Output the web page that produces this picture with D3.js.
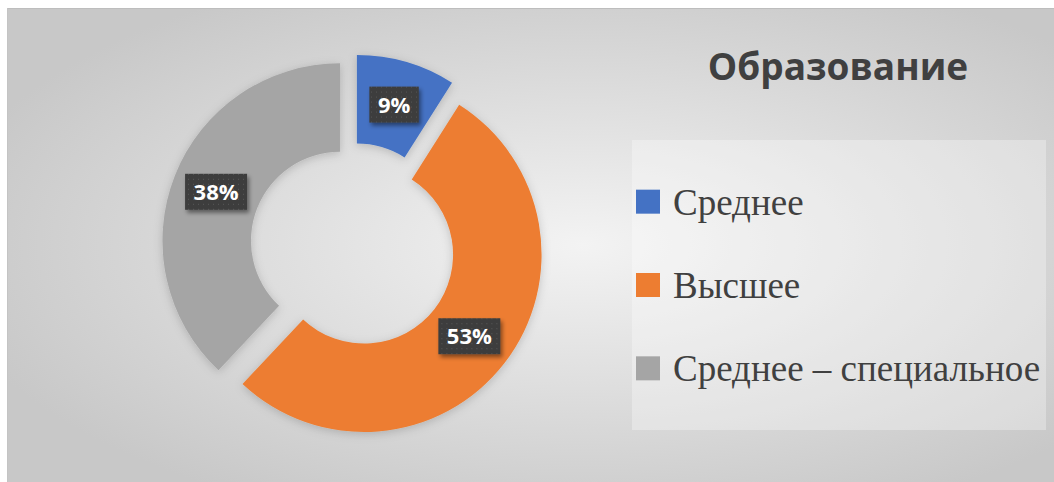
<!DOCTYPE html>
<html lang="ru">
<head>
<meta charset="utf-8">
<title>Образование</title>
<script src="https://cdn.jsdelivr.net/npm/d3@7/dist/d3.min.js"></script>
<style>
  html, body { margin: 0; padding: 0; background: #fff; }
  svg { display: block; }
</style>
</head>
<body>
<div id="chart"></div>
<script>
const categories = ["Среднее", "Высшее", "Среднее – специальное"];
const values = [9, 53, 38];
const colors = ["#4472C4", "#ED7D31", "#A5A5A5"];
const title = "Образование";

const width = 1054, height = 482;
const cx = 353, cy = 246;
const outerR = 177.5, innerR = 89, explode = 14;

const svg = d3.select("#chart").append("svg")
  .attr("width", width)
  .attr("height", height);

const defs = svg.append("defs");

const bg = defs.append("radialGradient")
  .attr("id", "bg")
  .attr("cx", "55%").attr("cy", "50%").attr("r", "62%");
bg.append("stop").attr("offset", "0%").attr("stop-color", "#f3f3f3");
bg.append("stop").attr("offset", "100%").attr("stop-color", "#c8c8c8");

// dotted texture for the data labels
const pat = defs.append("pattern")
  .attr("id", "dots")
  .attr("width", 5).attr("height", 5)
  .attr("patternUnits", "userSpaceOnUse");
pat.append("rect").attr("width", 5).attr("height", 5).attr("fill", "#3c3c3c");
pat.append("rect").attr("x", 2).attr("y", 2).attr("width", 1).attr("height", 1).attr("fill", "#5a5a5a");

const shadow = defs.append("filter").attr("id", "shadow")
  .attr("x", "-20%").attr("y", "-20%").attr("width", "150%").attr("height", "160%");
shadow.append("feDropShadow")
  .attr("dx", 2).attr("dy", 3).attr("stdDeviation", 2)
  .attr("flood-color", "#000").attr("flood-opacity", 0.45);

const softShadow = defs.append("filter").attr("id", "soft")
  .attr("x", "-20%").attr("y", "-20%").attr("width", "140%").attr("height", "140%");
softShadow.append("feDropShadow")
  .attr("dx", 0).attr("dy", 2).attr("stdDeviation", 5)
  .attr("flood-color", "#000").attr("flood-opacity", 0.18);

// background panel
svg.append("rect")
  .attr("x", 7).attr("y", 8)
  .attr("width", width - 7).attr("height", height - 8)
  .attr("fill", "url(#bg)");
svg.append("line")
  .attr("x1", 7).attr("x2", width).attr("y1", 8.5).attr("y2", 8.5)
  .attr("stroke", "#bdbdbd");
svg.append("line")
  .attr("x1", 7.5).attr("x2", 7.5).attr("y1", 8).attr("y2", height)
  .attr("stroke", "#c4c4c4");

// donut
const pie = d3.pie().sort(null).value(d => d);
const arcs = pie(values);
const arc = d3.arc().innerRadius(innerR).outerRadius(outerR);
const offset = d => {
  const a = (d.startAngle + d.endAngle) / 2;
  return [Math.sin(a) * explode, -Math.cos(a) * explode];
};

const g = svg.append("g").attr("transform", `translate(${cx},${cy})`);

g.selectAll("path.slice")
  .data(arcs)
  .join("path")
  .attr("class", "slice")
  .attr("d", arc)
  .attr("fill", (d, i) => colors[i])
  .attr("filter", "url(#soft)")
  .attr("transform", d => `translate(${offset(d)})`);

// data labels
const labelArc = d3.arc().innerRadius((innerR + outerR) / 2).outerRadius((innerR + outerR) / 2);
const labels = g.selectAll("g.lbl")
  .data(arcs)
  .join("g")
  .attr("class", "lbl")
  .attr("transform", d => {
    const c = labelArc.centroid(d), o = offset(d);
    return `translate(${c[0] + o[0]},${c[1] + o[1]})`;
  });

labels.each(function (d) {
  const el = d3.select(this);
  const box = el.append("rect").attr("fill", "url(#dots)").attr("filter", "url(#shadow)");
  const t = el.append("text")
    .attr("text-anchor", "middle")
    .attr("dy", "0.36em")
    .attr("fill", "#fff")
    .attr("font-family", "'Open Sans', sans-serif")
    .attr("font-weight", 700)
    .attr("font-size", 22)
    .text(d.data + "%");
  const w = t.node().getComputedTextLength() + 17, h = 36;
  box.attr("x", -w / 2).attr("y", -h / 2).attr("width", w).attr("height", h);
});

// title
svg.append("text")
  .attr("x", 838).attr("y", 80)
  .attr("text-anchor", "middle")
  .attr("fill", "#404040")
  .attr("font-family", "'Open Sans', sans-serif")
  .attr("font-weight", 700)
  .attr("font-size", 37)
  .text(title);

// legend
svg.append("rect")
  .attr("x", 632).attr("y", 140)
  .attr("width", 414).attr("height", 290)
  .attr("fill", "#fff").attr("fill-opacity", 0.3);

const ly = d3.scaleBand()
  .domain(categories)
  .range([160, 410]);

const leg = svg.selectAll("g.leg")
  .data(categories)
  .join("g")
  .attr("class", "leg")
  .attr("transform", d => `translate(636,${ly(d) + ly.bandwidth() / 2})`);

leg.append("rect")
  .attr("x", 0).attr("y", -12)
  .attr("width", 24).attr("height", 24)
  .attr("fill", (d, i) => colors[i]);

leg.append("text")
  .attr("x", 37).attr("y", 13)
  .attr("fill", "#404040")
  .attr("font-family", "'Liberation Serif', 'Times New Roman', serif")
  .attr("font-size", 37)
  .text(d => d);
</script>
</body>
</html>
